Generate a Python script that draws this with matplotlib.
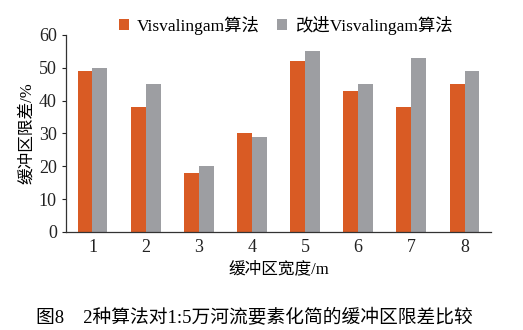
import numpy as np
import matplotlib
matplotlib.use("Agg")
import matplotlib.pyplot as plt

plt.rcParams['font.family'] = ['Liberation Serif', 'Noto Sans CJK SC']
plt.rcParams['axes.unicode_minus'] = False

# buffer widths and tolerance percentages
widths = ["1", "2", "3", "4", "5", "6", "7", "8"]
vis_orig = [49, 38, 18, 30, 52, 43, 38, 45]
vis_improved = [50, 45, 20, 29, 55, 45, 53, 49]
series_names = ["Visvalingam算法", "改进Visvalingam算法"]

ORANGE = "#D95B24"
GRAY = "#9D9EA2"

fig = plt.figure(figsize=(5.23, 3.30), dpi=100)
ax = fig.add_axes([0.126, 0.297, 0.813, 0.597])

x = np.arange(len(widths))
w = 0.28
ax.bar(x - w / 2, vis_orig, w, color=ORANGE, label=series_names[0])
ax.bar(x + w / 2, vis_improved, w, color=GRAY, label=series_names[1])

ax.set_xlim(-0.5, len(widths) - 0.5)
ax.set_ylim(0, 60)
ax.set_yticks(range(0, 61, 10))
ax.set_xticks(x)
ax.set_xticklabels(widths)
ax.tick_params(axis="both", labelsize=13, length=3, width=0.8, colors="#222222")
ax.tick_params(axis="x", length=0, pad=5)

for side in ("top", "right"):
    ax.spines[side].set_visible(False)
for side in ("left", "bottom"):
    ax.spines[side].set_color("#333333")
    ax.spines[side].set_linewidth(0.9)

ax.set_xlabel("缓冲区宽度/m", fontsize=12, labelpad=4)
ax.set_ylabel("缓冲区限差/%", fontsize=12, labelpad=3)

ax.legend(loc="center", bbox_to_anchor=(0.518, 1.05), ncol=2, frameon=False,
          fontsize=12.5, handlelength=0.55, handleheight=0.55, handletextpad=0.5,
          columnspacing=1.0, borderaxespad=0.0)

fig.text(0.487, 0.036, "图8    2种算法对1:5万河流要素化简的缓冲区限差比较",
         ha="center", va="center", fontsize=13.5)

fig.savefig("out.png", dpi=100)
